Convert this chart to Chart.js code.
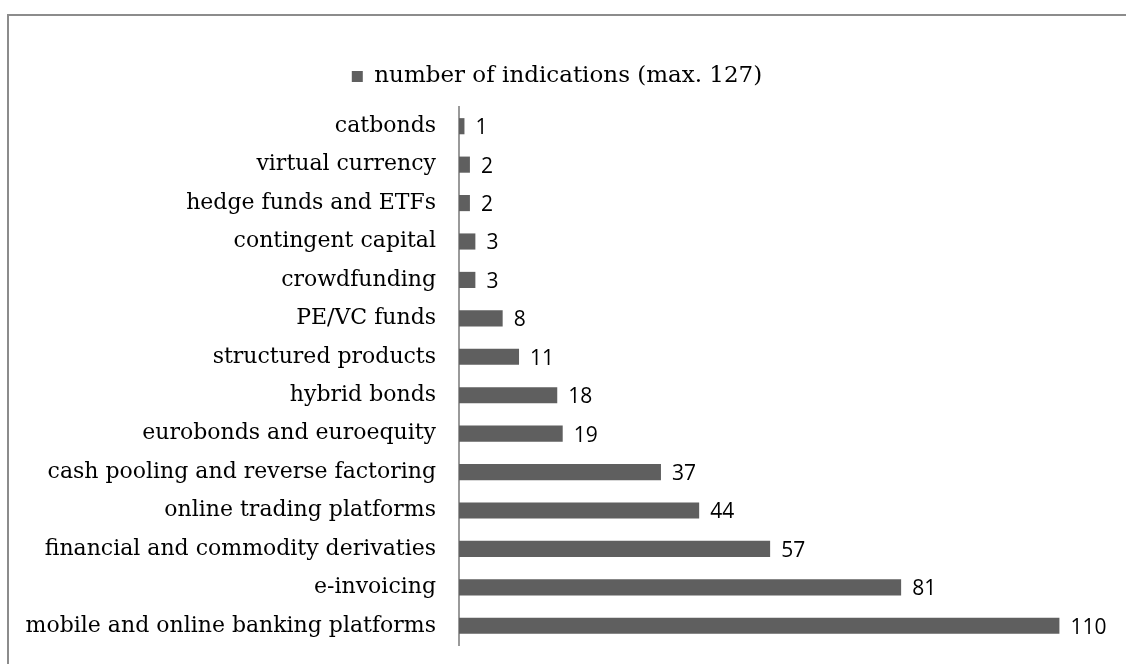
<!DOCTYPE html>
<html>
<head>
<meta charset="utf-8">
<script src="https://cdn.jsdelivr.net/npm/chart.js@4"></script>
<style>
    html, body { margin: 0; padding: 0; background: #fff; }
    body { width: 1126px; height: 664px; overflow: hidden; position: relative; }
    .frame {
        position: absolute; left: 7px; top: 14px;
        width: 1140px; height: 680px;
        border: 2px solid #8c8c8c; box-sizing: border-box;
    }
    .wrap { position: absolute; left: 0; top: 0; width: 1126px; height: 664px; }
</style>
</head>
<body>
<div class="frame"></div>
<div class="wrap"><canvas id="chart"></canvas></div>
<script>
const categories = [
    'catbonds',
    'virtual currency',
    'hedge funds and ETFs',
    'contingent capital',
    'crowdfunding',
    'PE/VC funds',
    'structured products',
    'hybrid bonds',
    'eurobonds and euroequity',
    'cash pooling and reverse factoring',
    'online trading platforms',
    'financial and commodity derivaties',
    'e-invoicing',
    'mobile and online banking platforms'
];
const indications = [1, 2, 2, 3, 3, 8, 11, 18, 19, 37, 44, 57, 81, 110];
const seriesName = 'number of indications (max. 127)';

const barColor = '#5f5f5f';

// extra gap under the legend
const legendGap = {
    id: 'legendGap',
    afterInit(chart) {
        const legend = chart.legend;
        if (!legend || legend._gapPatched) return;
        const fit = legend.fit;
        legend.fit = function () {
            fit.call(this);
            this.height += 9;
        };
        legend._gapPatched = true;
    }
};

// value labels to the right of each bar
const valueLabels = {
    id: 'valueLabels',
    afterDatasetsDraw(chart) {
        const ctx = chart.ctx;
        const meta = chart.getDatasetMeta(0);
        ctx.save();
        ctx.font = '21px "Open Sans", sans-serif';
        ctx.fillStyle = '#000';
        ctx.textAlign = 'left';
        ctx.textBaseline = 'middle';
        meta.data.forEach((bar, i) => {
            ctx.fillText(String(indications[i]), bar.x + 11, bar.y + 2);
        });
        ctx.restore();
    }
};

new Chart(document.getElementById('chart'), {
    type: 'bar',
    data: {
        labels: categories,
        datasets: [{
            label: seriesName,
            data: indications,
            backgroundColor: barColor,
            borderWidth: 0,
            barPercentage: 0.6,
            categoryPercentage: 0.7
        }]
    },
    options: {
        indexAxis: 'y',
        responsive: true,
        maintainAspectRatio: false,
        animation: false,
        layout: {
            padding: { top: 38, right: 12, bottom: 19, left: 0 }
        },
        plugins: {
            legend: {
                display: true,
                position: 'top',
                labels: {
                    boxWidth: 11,
                    boxHeight: 11,
                    padding: 27,
                    color: '#000',
                    font: { family: '"DejaVu Serif", serif', size: 23 }
                }
            },
            tooltip: { enabled: false }
        },
        scales: {
            x: {
                display: false,
                min: 0,
                max: 120
            },
            y: {
                grid: { display: false },
                border: { display: true, color: '#9a9a9a', width: 2 },
                ticks: {
                    color: '#000',
                    padding: 15,
                    font: { family: '"DejaVu Serif", serif', size: 22 }
                },
                afterFit(scale) {
                    scale.width = 459;
                    scale.paddingTop = 0;
                    scale.paddingBottom = 0;
                }
            }
        }
    },
    plugins: [legendGap, valueLabels]
});
</script>
</body>
</html>
